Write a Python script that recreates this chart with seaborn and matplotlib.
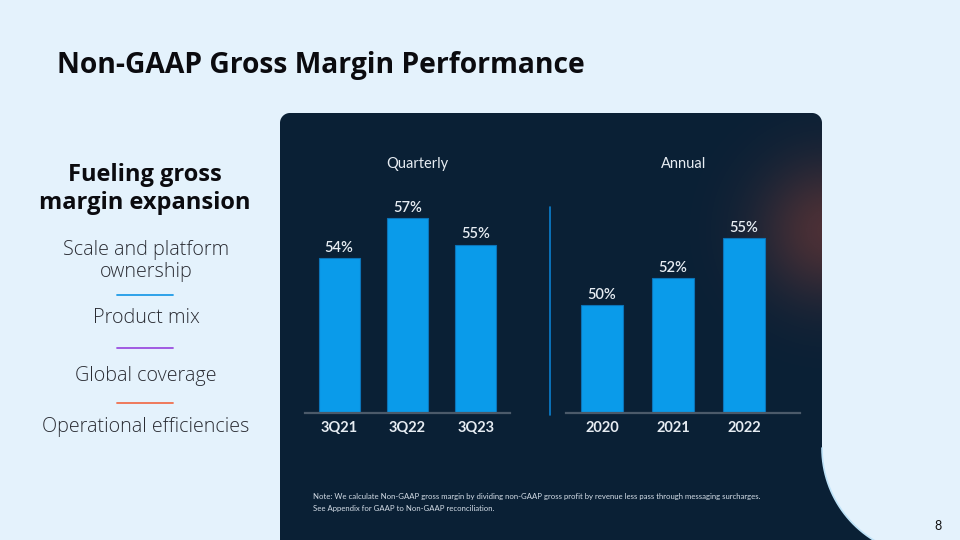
import numpy as np
import matplotlib.pyplot as plt
import seaborn as sns
from matplotlib.path import Path
from matplotlib.patches import PathPatch

# data
quarters = ["3Q21", "3Q22", "3Q23"]
quarter_margin = [54, 57, 55]
years = ["2020", "2021", "2022"]
annual_margin = [50, 52, 55]

drivers = ["Scale and platform\nownership", "Product mix", "Global coverage", "Operational efficiencies"]
driver_y = [261, 318, 376, 427]
sep_colors = ["#1E9BE8", "#9B4FE0", "#F0704F"]
sep_y = [295, 348, 403]

BAR = "#0A9BEA"
LIGHT = "#E6ECF2"
PANEL = "#0A2035"
SLIDE_FONT = ["Open Sans", "DejaVu Sans"]

sns.set_theme(style="white")
plt.rcParams["font.family"] = ["Lato", "DejaVu Sans"]

fig = plt.figure(figsize=(9.6, 5.4), dpi=100)
fig.patch.set_facecolor("#E4F2FC")

# background layer in pixel coordinates
bg = fig.add_axes([0, 0, 1, 1], zorder=0)
bg.set_xlim(0, 960)
bg.set_ylim(540, 0)
bg.axis("off")


def arc(cx, cy, r, a0, a1, n=30):
    t = np.radians(np.linspace(a0, a1, n))
    return np.column_stack([cx + r * np.cos(t), cy + r * np.sin(t)])


curve = arc(930, 448, 108, 180, 112)
verts = np.vstack([
    [[280, 545]],
    arc(290, 123, 10, 180, 270),
    arc(812, 123, 10, 270, 360),
    curve,
    [[280, 545]],
])
panel = PathPatch(Path(verts), facecolor=PANEL, edgecolor="none")
bg.add_patch(panel)
bg.plot(curve[:, 0], curve[:, 1], color="#BFE3F8", lw=1.2)

# reddish glow at the right edge of the panel
gx, gy = np.meshgrid(np.linspace(560, 960, 200), np.linspace(100, 540, 220))
d2 = (gx - 828) ** 2 + (gy - 230) ** 2
glow = np.zeros(gx.shape + (4,))
glow[..., 0] = 130 / 255
glow[..., 1] = 62 / 255
glow[..., 2] = 55 / 255
glow[..., 3] = 0.55 * np.exp(-d2 / (2 * 50 ** 2))
im = bg.imshow(glow, extent=[560, 960, 540, 100], interpolation="bilinear", zorder=1)
im.set_clip_path(panel)

# divider between the two charts
bg.plot([550, 550], [207, 415], color="#0A80CF", lw=1.2, zorder=2)

# separators on the left
for c, y in zip(sep_colors, sep_y):
    bg.plot([117, 173], [y, y], color=c, lw=1.3)


def bar_panel(rect, cats, vals, xlim, ylim):
    ax = fig.add_axes(rect, zorder=3)
    ax.set_facecolor("none")
    sns.barplot(x=cats, y=vals, ax=ax, color=BAR, saturation=1, width=0.6,
                edgecolor="#0B74B8", linewidth=0.8)
    ax.bar_label(ax.containers[0], labels=[f"{v}%" for v in vals], padding=2.5,
                 color=LIGHT, fontsize=10.5, fontweight="semibold")
    ax.set_xlim(*xlim)
    ax.set_ylim(*ylim)
    for s in ["left", "right", "top"]:
        ax.spines[s].set_visible(False)
    ax.spines["bottom"].set_color("#4B5A6A")
    ax.spines["bottom"].set_linewidth(1.6)
    ax.set_yticks([])
    ax.tick_params(axis="x", length=0, pad=6, labelcolor=LIGHT, labelsize=10.5)
    for lab in ax.get_xticklabels():
        lab.set_fontweight("bold")
    ax.set_xlabel("")
    ax.set_ylabel("")
    return ax


bar_panel([305 / 960, 127 / 540, 205 / 960, 233 / 540], quarters, quarter_margin,
          (-0.5, 2.5), (42.26, 59.91))
bar_panel([566 / 960, 127 / 540, 234 / 960, 233 / 540], years, annual_margin,
          (-0.51, 2.79), (41.94, 59.33))

fig.text(417 / 960, 1 - 164 / 540, "Quarterly", ha="center", va="center", color=LIGHT, fontsize=10.5)
fig.text(684 / 960, 1 - 164 / 540, "Annual", ha="center", va="center", color=LIGHT, fontsize=10.5)

# slide text
fig.text(57 / 960, 1 - 66 / 540, "Non-GAAP Gross Margin Performance", ha="left", va="center",
         color="#0B0B0F", fontsize=20.3, fontweight="bold", family=SLIDE_FONT)
fig.text(145 / 960, 1 - 189 / 540, "Fueling gross\nmargin expansion", ha="center", va="center",
         color="#0B0B0F", fontsize=17, fontweight="bold", linespacing=1.25, family=SLIDE_FONT)
for txt, y in zip(drivers, driver_y):
    fig.text(146 / 960, 1 - y / 540, txt, ha="center", va="center", color="#2A2C33",
             fontsize=14.2, fontweight="light", linespacing=1.15, family=SLIDE_FONT)

fig.text(313 / 960, 1 - 497 / 540,
         "Note: We calculate Non-GAAP gross margin by dividing non-GAAP gross profit by revenue less pass through messaging surcharges.",
         ha="left", va="center", color="#D5DEE8", fontsize=5.6)
fig.text(313 / 960, 1 - 508 / 540, "See Appendix for GAAP to Non-GAAP reconciliation.",
         ha="left", va="center", color="#D5DEE8", fontsize=5.6)
fig.text(938 / 960, 1 - 526 / 540, "8", ha="center", va="center", color="#111111", fontsize=9)

fig.savefig("out.png", dpi=100, facecolor=fig.get_facecolor())
